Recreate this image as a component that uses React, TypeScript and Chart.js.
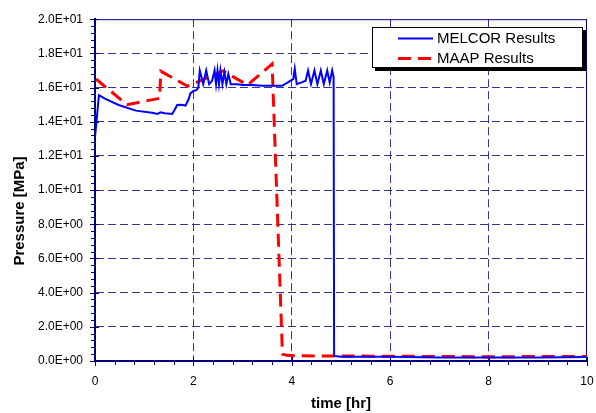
import React, { useEffect, useRef } from 'react';
import { Chart, registerables } from 'chart.js';

Chart.register(...registerables);

// ---- data ----
const melcorTime = [
  0.0, 0.03, 0.08, 0.2, 0.48, 0.83, 1.16, 1.27, 1.33, 1.42, 1.57, 1.62, 1.67, 1.75, 1.84, 1.9, 1.94, 2.0, 2.06,
  2.1, 2.13, 2.2, 2.26, 2.32, 2.38, 2.43, 2.46, 2.49, 2.52, 2.55, 2.59, 2.63, 2.67, 2.71, 2.76, 2.9, 3.0, 3.2,
  3.4, 3.6, 3.8, 3.92, 4.0, 4.03, 4.06, 4.1, 4.2, 4.28, 4.33, 4.39, 4.46, 4.52, 4.59, 4.65, 4.72, 4.77, 4.82,
  4.85, 4.86, 5.0, 6.0, 7.0, 8.0, 9.0, 10.0,
];
const melcorPressure = [
  13.1, 14.0, 15.55, 15.35, 14.98, 14.65, 14.53, 14.46, 14.55, 14.5, 14.46, 14.7, 14.98, 15.0, 14.95, 15.3, 15.66, 15.8, 15.85,
  16.0, 17.0, 16.2, 17.0, 16.2, 16.4, 17.0, 16.2, 17.0, 16.2, 17.0, 16.2, 16.9, 16.2, 16.8, 16.2, 16.2, 16.15, 16.15,
  16.1, 16.1, 16.1, 16.3, 16.45, 16.5, 17.1, 16.2, 16.3, 16.4, 17.0, 16.2, 17.0, 16.2, 17.0, 16.2, 17.0, 16.3, 17.0,
  16.6, 0.3, 0.25, 0.25, 0.2, 0.2, 0.2, 0.23,
];
const maapTime = [0.02, 0.65, 1.31, 1.34, 1.88, 2.6, 3.1, 3.6, 3.81, 3.9, 4.2, 6.0, 8.0, 10.0];
const maapPressure = [16.5, 15.0, 15.37, 16.95, 16.08, 16.98, 16.15, 17.38, 0.4, 0.33, 0.3, 0.28, 0.25, 0.27];

const seriesLabels = ['MELCOR Results', 'MAAP Results'];
const xTitle = 'time [hr]';
const yTitle = 'Pressure [MPa]';

const NAVY = '#000080';
const GRID = '#333399';
const FONT = 'Arial, "Liberation Sans", sans-serif';

function fmtE(v: number): string {
  if (v === 0) return '0.0E+00';
  const e = Math.floor(Math.log10(Math.abs(v)) + 1e-9);
  const m = v / Math.pow(10, e);
  return m.toFixed(1) + 'E' + (e < 0 ? '-' : '+') + String(Math.abs(e)).padStart(2, '0');
}

const decorPlugin = {
  id: 'decor',
  beforeDatasetsDraw(chart: any) {
    const { ctx, chartArea: a, scales } = chart;
    const xs = scales.x;
    const ys = scales.y;
    ctx.save();
    // top and right frame
    ctx.strokeStyle = NAVY;
    ctx.lineWidth = 1;
    ctx.beginPath();
    ctx.moveTo(a.left, a.top + 0.5);
    ctx.lineTo(a.right, a.top + 0.5);
    ctx.moveTo(a.right - 0.5, a.top);
    ctx.lineTo(a.right - 0.5, a.bottom);
    ctx.stroke();
    // ticks
    ctx.lineWidth = 1;
    ctx.beginPath();
    for (let i = 0; i <= 50; i++) {
      const v = i * 0.4;
      const py = Math.round(ys.getPixelForValue(v)) + 0.5;
      const major = i % 5 === 0;
      ctx.moveTo(a.left - (major ? 5 : 4), py);
      ctx.lineTo(a.left + (major ? 4 : 0), py);
    }
    for (let i = 0; i <= 25; i++) {
      const v = i * 0.4;
      const px = Math.round(xs.getPixelForValue(v)) + 0.5;
      const major = i % 5 === 0;
      ctx.moveTo(px, a.bottom + (major ? 5 : 4));
      ctx.lineTo(px, a.bottom - (major ? 4 : 0));
    }
    ctx.stroke();
    ctx.restore();
  },
  afterDraw(chart: any) {
    const { ctx, chartArea: a } = chart;
    ctx.save();
    // axis titles
    ctx.fillStyle = '#000';
    ctx.font = `bold 15px ${FONT}`;
    ctx.textAlign = 'center';
    ctx.textBaseline = 'middle';
    ctx.fillText(xTitle, (a.left + a.right) / 2, 404);
    ctx.save();
    ctx.translate(20, 211);
    ctx.rotate(-Math.PI / 2);
    ctx.fillText(yTitle, 0, 0);
    ctx.restore();
    // legend box
    const bx = 372, by = 27, bw = 211, bh = 41;
    ctx.fillStyle = '#000';
    ctx.fillRect(bx + 3, by + 3, bw, bh);
    ctx.fillStyle = '#fff';
    ctx.fillRect(bx, by, bw, bh);
    ctx.strokeStyle = '#000';
    ctx.lineWidth = 1;
    ctx.strokeRect(bx + 0.5, by + 0.5, bw - 1, bh - 1);
    const ds = chart.data.datasets;
    const rows = [38.5, 58.5];
    ds.forEach((d: any, i: number) => {
      ctx.save();
      ctx.strokeStyle = d.borderColor;
      ctx.lineWidth = d.borderWidth;
      ctx.setLineDash(d.borderDash || []);
      ctx.beginPath();
      ctx.moveTo(398, rows[i]);
      ctx.lineTo(433, rows[i]);
      ctx.stroke();
      ctx.restore();
      ctx.fillStyle = '#000';
      ctx.font = `15px ${FONT}`;
      ctx.textAlign = 'left';
      ctx.textBaseline = 'middle';
      ctx.fillText(d.label, 437, rows[i] + 0.5);
    });
    ctx.restore();
  },
};

export default function App() {
  const ref = useRef<HTMLCanvasElement | null>(null);
  useEffect(() => {
    if (!ref.current) return;
    const chart = new Chart(ref.current, {
      type: 'line',
      data: {
        datasets: [
          {
            label: seriesLabels[0],
            data: melcorTime.map((t, i) => ({ x: t, y: melcorPressure[i] })),
            borderColor: '#0000ff',
            borderWidth: 2,
            pointRadius: 0,
            tension: 0,
            fill: false,
          },
          {
            label: seriesLabels[1],
            data: maapTime.map((t, i) => ({ x: t, y: maapPressure[i] })),
            borderColor: '#ff0000',
            borderWidth: 3,
            borderDash: [13, 7],
            pointRadius: 0,
            tension: 0,
            fill: false,
          },
        ],
      },
      options: {
        animation: false,
        responsive: false,
        layout: { padding: { left: 0, top: 17, right: 9, bottom: 0 } },
        plugins: { legend: { display: false }, tooltip: { enabled: false } },
        scales: {
          x: {
            type: 'linear',
            min: 0,
            max: 10,
            afterFit: (s: any) => { s.height = 52; s.paddingLeft = 0; s.paddingRight = 0; },
            ticks: { stepSize: 2, padding: 13, color: '#000', font: { family: FONT, size: 12 } },
            grid: {
              drawTicks: false,
              color: (c: any) => (c.tick && (c.tick.value === 0 || c.tick.value === 10) ? 'rgba(0,0,0,0)' : GRID),
              lineWidth: 1,
            },
            border: { display: true, color: NAVY, width: 2, dash: [8, 4] },
          },
          y: {
            type: 'linear',
            min: 0,
            max: 20,
            afterFit: (s: any) => { s.width = 95; },
            ticks: { stepSize: 2, padding: 12, color: '#000', font: { family: FONT, size: 12 }, callback: (v: any) => fmtE(Number(v)) },
            grid: {
              drawTicks: false,
              color: (c: any) => (c.tick && (c.tick.value === 0 || c.tick.value === 20) ? 'rgba(0,0,0,0)' : GRID),
              lineWidth: 1,
            },
            border: { display: true, color: NAVY, width: 2, dash: [8, 4] },
          },
        },
      },
      plugins: [decorPlugin],
    });
    return () => chart.destroy();
  }, []);
  return (
    <div style={{ position: 'fixed', left: 0, top: 0, width: 596, height: 413, background: '#fff' }}>
      <canvas ref={ref} width={596} height={413} style={{ display: 'block' }} />
    </div>
  );
}
